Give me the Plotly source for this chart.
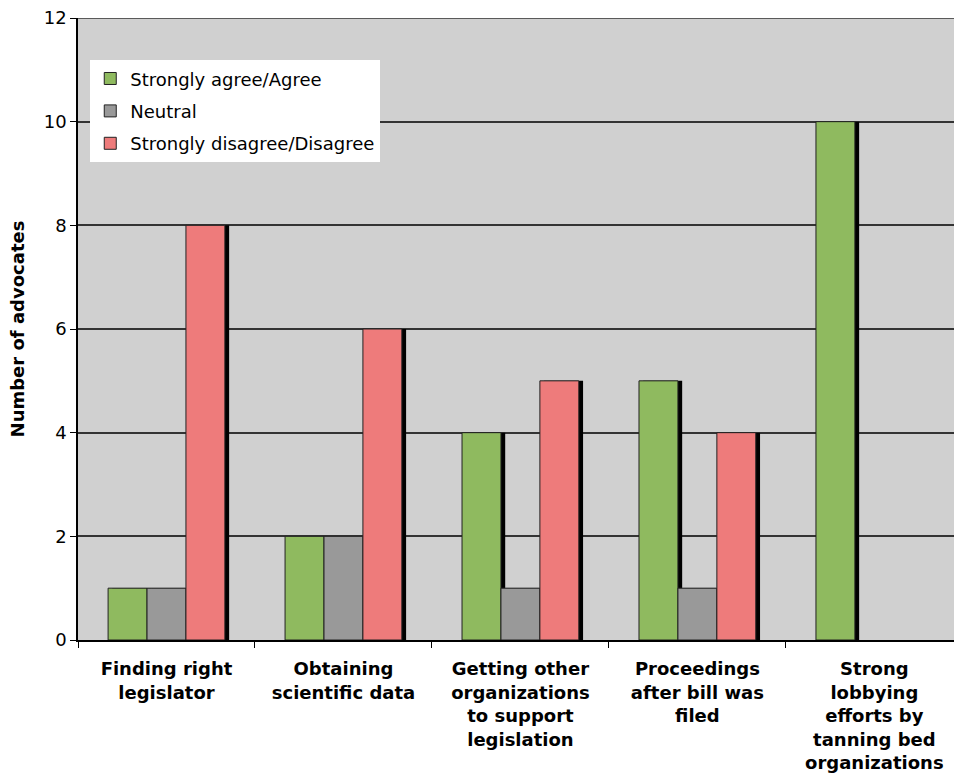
import plotly.graph_objects as go

categories = ["Finding right<br>legislator", "Obtaining<br>scientific data",
              "Getting other<br>organizations<br>to support<br>legislation",
              "Proceedings<br>after bill was<br>filed",
              "Strong<br>lobbying<br>efforts by<br>tanning bed<br>organizations"]
series_names = ["Strongly agree/Agree", "Neutral", "Strongly disagree/Disagree"]
agree = [1, 2, 4, 5, 10]
neutral = [1, 2, 1, 1, 0]
disagree = [8, 6, 5, 4, 0]
y_ticks = [0, 2, 4, 6, 8, 10, 12]

colors = ["#8FBA5F", "#999999", "#EE7B7B"]
values = [agree, neutral, disagree]
offsets = [-0.33, -0.11, 0.11]
bw = 0.22
shadow_dx = 0.024

def nz(vals):
    return [v if v else None for v in vals]

fig = go.Figure()
# shadows
for vals, off in zip(values, offsets):
    fig.add_trace(go.Bar(x=categories, y=nz(vals), offset=off + shadow_dx, width=bw,
                         marker=dict(color="black", line=dict(width=0)),
                         showlegend=False, hoverinfo="skip"))
for i, (name, vals, off, c) in enumerate(zip(series_names, values, offsets, colors)):
    fig.add_trace(go.Bar(x=categories, y=nz(vals), name=name, offset=off, width=bw,
                         legendgroup="g%d" % i,
                         marker=dict(color=c, line=dict(color="#222222", width=1))))

fig.update_layout(
    width=954, height=780,
    barmode="overlay",
    paper_bgcolor="white",
    plot_bgcolor="#D0D0D0",
    margin=dict(l=78, r=0, t=18, b=140),
    font=dict(family="DejaVu Sans", size=17, color="black"),
    legend=dict(x=0.014, y=0.932, xanchor="left", yanchor="top",
                bgcolor="white", font=dict(size=18, family="DejaVu Sans"),
                itemwidth=30, tracegroupgap=6),
    showlegend=True,
)
fig.update_yaxes(range=[0, 12], tickvals=y_ticks, showgrid=True, gridcolor="#333333",
                 gridwidth=1.5, showline=True, linecolor="black", linewidth=1.5,
                 ticks="outside", ticklen=6, tickcolor="black",
                 tickfont=dict(size=18), zeroline=False,
                 title=dict(text="<b>Number of advocates</b>", font=dict(size=18), standoff=14))
fig.update_xaxes(range=[-0.5, 4.45], tickson="boundaries", ticks="outside", ticklen=6,
                 tickcolor="black", showline=True, linecolor="black", linewidth=1.5,
                 mirror=False, showgrid=False, ticklabelstandoff=12,
                 tickfont=dict(size=18, family="DejaVu Sans"))
fig.update_xaxes(ticktext=["<b>" + c + "</b>" for c in categories], tickvals=categories)
fig.add_shape(type="line", xref="paper", yref="y", x0=0, x1=1, y0=12, y1=12,
              line=dict(color="#333333", width=1.5))
fig.write_html("out.html")
